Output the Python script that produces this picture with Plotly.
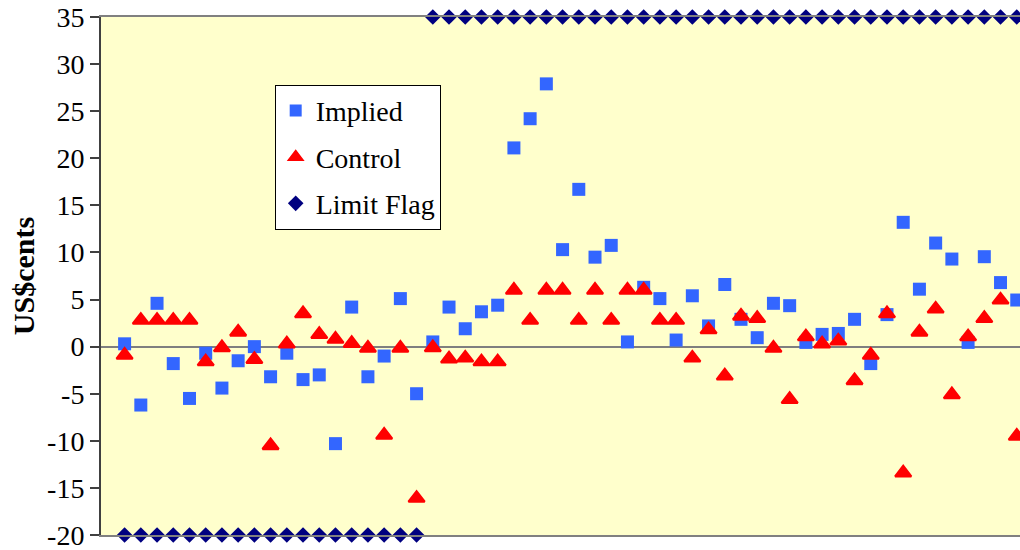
import plotly.graph_objects as go

# Observation index along the horizontal axis
periods = list(range(1, 57))

# Implied spread, US cents
implied = [0.3, -6.2, 4.6, -1.8, -5.5, -0.7, -4.4, -1.5, 0.0, -3.2,
           -0.7, -3.5, -3.0, -10.3, 4.2, -3.2, -1.0, 5.1, -5.0, 0.5,
           4.2, 1.9, 3.7, 4.4, 21.1, 24.2, 27.9, 10.3, 16.7, 9.5,
           10.75, 0.5, 6.3, 5.1, 0.7, 5.4, 2.2, 6.6, 2.9, 0.95,
           4.6, 4.35, 0.45, 1.3, 1.4, 2.9, -1.8, 3.4, 13.2, 6.1,
           11.0, 9.3, 0.45, 9.55, 6.8, 4.95]

# Control spread, US cents
control = [-0.9, 2.8, 2.8, 2.8, 2.8, -1.6, -0.1, 1.55, -1.35, -10.5,
           0.3, 3.5, 1.3, 0.8, 0.35, -0.15, -9.4, -0.15, -16.1, -0.1,
           -1.3, -1.2, -1.6, -1.6, 6.0, 2.8, 6.0, 6.0, 2.8, 6.0,
           2.8, 6.0, 6.0, 2.8, 2.8, -1.2, 1.8, -3.1, 3.25, 3.0,
           -0.15, -5.6, 1.05, 0.3, 0.6, -3.6, -0.9, 3.5, -13.4, 1.55,
           4.0, -5.1, 1.05, 3.0, 4.95, -9.5]

# Limit flag: bottom of scale when off, top of scale when on
limit_flag = [-20, -20, -20, -20, -20, -20, -20, -20, -20, -20,
              -20, -20, -20, -20, -20, -20, -20, -20, -20, 35,
              35, 35, 35, 35, 35, 35, 35, 35, 35, 35,
              35, 35, 35, 35, 35, 35, 35, 35, 35, 35,
              35, 35, 35, 35, 35, 35, 35, 35, 35, 35,
              35, 35, 35, 35, 35, 35]

y_ticks = [-20, -15, -10, -5, 0, 5, 10, 15, 20, 25, 30, 35]
y_tick_labels = ["-20", "-15", "-10", "-5", "0", "5", "10", "15", "20",
                 "25", "30", "35"]

SERIF = "Liberation Serif, Times New Roman, serif"

fig = go.Figure()
fig.add_trace(go.Scatter(
    x=periods, y=implied, mode="markers", name="Implied",
    legendgroup="a",
    marker=dict(symbol="square", size=13, color="#3366FF",
                line=dict(width=0)),
))
fig.add_trace(go.Scatter(
    x=periods, y=control, mode="markers", name="Control",
    legendgroup="b",
    marker=dict(symbol="triangle-up", size=14, color="#FF0000",
                line=dict(width=2.2, color="#FF0000")),
))
fig.add_trace(go.Scatter(
    x=periods, y=limit_flag, mode="markers", name="Limit Flag",
    legendgroup="c", cliponaxis=False,
    marker=dict(symbol="diamond", size=12, color="#000080",
                line=dict(width=0)),
))

fig.update_layout(
    width=1020, height=550,
    margin=dict(l=101, r=0, t=17, b=15),
    paper_bgcolor="white",
    plot_bgcolor="#FFFFCC",
    font=dict(family=SERIF, size=28, color="black"),
    showlegend=True,
    legend=dict(
        x=0.189, y=0.869, xanchor="left", yanchor="top",
        bgcolor="white", bordercolor="black", borderwidth=1,
        font=dict(family=SERIF, size=28, color="black"),
        tracegroupgap=7, traceorder="grouped",
        itemsizing="constant", itemwidth=30,
    ),
    xaxis=dict(
        range=[-0.455, 56.2],
        showgrid=False, zeroline=False, showticklabels=False,
        ticks="", showline=True, linecolor="#808080", linewidth=2,
        mirror=True,
    ),
    yaxis=dict(
        range=[-20, 35], tickvals=y_ticks, ticktext=y_tick_labels,
        ticklabeloverflow="allow",
        showgrid=False,
        zeroline=True, zerolinecolor="#7F7F7F", zerolinewidth=2,
        showline=True, linecolor="#404040", linewidth=2,
        ticks="outside", ticklen=9, tickwidth=1.5, tickcolor="#404040",
        tickfont=dict(family=SERIF, size=28, color="black"),
        title=dict(text="<b>US$cents</b>", standoff=4,
                   font=dict(family=SERIF, size=30, color="black")),
    ),
)

fig.write_html("out.html")
